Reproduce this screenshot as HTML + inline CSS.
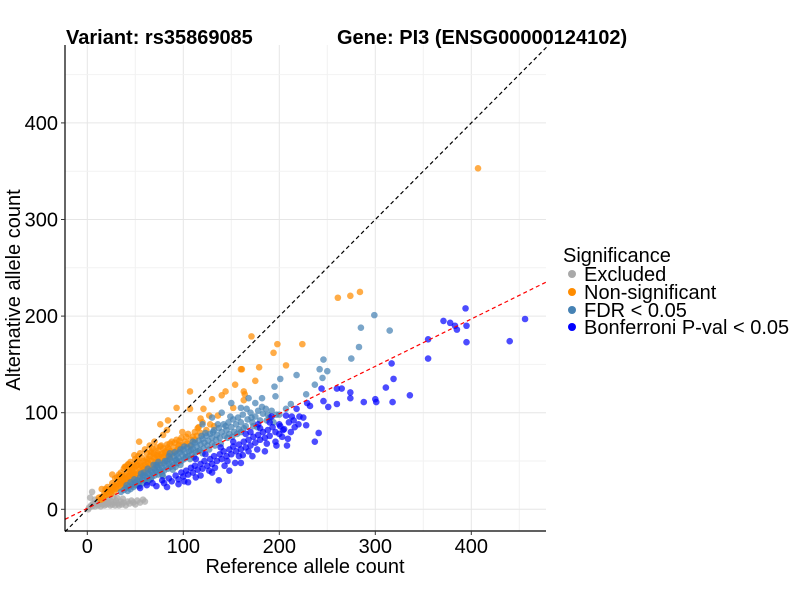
<!DOCTYPE html>
<html><head><meta charset="utf-8"><style>
body{margin:0;background:#fff;}
svg{display:block;font-family:"Liberation Sans",sans-serif;}
</style></head><body>
<svg id="chart" width="800" height="600">
<g id="grid"></g>
<g id="points"></g>
<g id="lines"></g>
<g id="axes"></g>
<text x="66" y="44" font-size="20" font-weight="bold">Variant: rs35869085</text>
<text x="337" y="44" font-size="20" font-weight="bold">Gene: PI3 (ENSG00000124102)</text>
<text x="305" y="573" font-size="20" text-anchor="middle">Reference allele count</text>
<text transform="translate(20,290) rotate(-90)" font-size="20" text-anchor="middle">Alternative allele count</text>
<g>
<text x="563" y="262" font-size="20">Significance</text>
<g><circle cx="572" cy="274" r="4" fill="#A9A9A9"/><text x="584" y="281" font-size="20">Excluded</text></g>
<g><circle cx="572" cy="292" r="4" fill="#FF8C00"/><text x="584" y="299" font-size="20">Non-significant</text></g>
<g><circle cx="572" cy="310" r="4" fill="#4682B4"/><text x="584" y="317" font-size="20">FDR &lt; 0.05</text></g>
<g><circle cx="572" cy="327" r="4" fill="#0000FF"/><text x="584" y="334" font-size="20">Bonferroni P-val &lt; 0.05</text></g>
</g>
</svg>
<script>
const xTicks=[0,100,200,300,400];
const yTicks=[0,100,200,300,400];
const grayPts=[[2,2],[4,4],[5,3],[6,6],[7,5],[8,3],[9,7],[10,6],[11,4],[12,8],[13,6],[14,3],[15,7],[16,5],[17,9],[18,4],[19,7],[20,5],[21,10],[22,6],[24,4],[25,8],[26,5],[28,7],[29,4],[30,9],[32,6],[33,4],[35,8],[36,5],[38,7],[40,4],[42,8],[44,6],[46,9],[48,7],[50,5],[52,9],[55,7],[58,10],[60,8],[5,18],[3,12],[8,10],[1,0],[23,11],[31,12],[27,13],[37,11],[13,10]];
const orangePts=[[12,12],[14,10],[15,13],[16,11],[18,14],[18,17],[20,15],[20,18],[22,16],[22,20],[24,18],[24,21],[25,16],[26,20],[27,23],[28,19],[28,25],[30,21],[30,24],[31,27],[32,22],[33,26],[34,29],[35,24],[35,31],[36,27],[37,33],[38,25],[38,29],[39,35],[40,28],[40,32],[41,37],[42,30],[43,34],[44,39],[45,32],[45,36],[46,30],[47,41],[48,34],[48,38],[49,44],[50,36],[50,33],[51,40],[52,46],[53,37],[54,42],[55,35],[55,48],[56,39],[57,44],[58,38],[58,50],[59,42],[60,46],[61,40],[62,52],[62,44],[63,48],[64,42],[65,55],[66,46],[67,50],[68,44],[69,58],[70,48],[70,53],[71,46],[72,56],[73,50],[74,61],[75,52],[76,48],[77,57],[78,54],[79,63],[80,55],[81,51],[82,59],[83,67],[84,56],[85,62],[86,54],[87,60],[88,70],[89,58],[90,64],[92,60],[93,72],[94,62],[95,66],[97,63],[98,74],[100,66],[102,70],[104,68],[105,78],[108,72],[110,75],[112,80],[114,76],[116,85],[118,79],[120,90],[124,82],[128,88],[132,86],[60,62],[55,58],[50,52],[45,49],[40,44],[35,38],[65,66],[70,70],[72,64],[62,58],[52,50],[48,46],[44,42],[42,46],[38,42],[33,36],[29,32],
[21,23],[26,27],[34,34],[39,31],[43,47],[47,36],[53,55],[57,53],[61,49],[66,59],[68,63],[73,58],[77,66],[81,60],[86,68],[91,69],[96,71],[99,80],[103,75],[56,45],[64,52],[69,54],[74,55],[79,58],[84,64],[46,43],[51,45],[36,35],[31,33],[19,21],
[261,219],[274,221],[284,225],[407,353],[171,179],[198,171],[224,171],[194,162],[161,145],[179,147],[207,149],[175,133],[164,119],[163,113],[160,145],[154,129],[163,122],[152,105],[144,122],[140,118],[130,114],[107,122],[93,105],[107,104],[121,104],[127,97],[136,97],[118,94],[115,84],[112,72],[76,88],[84,92],[83,82],[79,77],[76,65],[54,70],[67,60],[96,67],[107,66],[26,36],[39,44],[49,56],[15,21]];
const fdrPts=[[35,18],[38,20],[40,22],[42,19],[44,24],[45,21],[47,26],[48,23],[50,28],[50,25],[52,30],[53,26],[55,29],[55,33],[57,31],[58,27],[60,35],[60,30],[62,33],[63,37],[64,30],[65,36],[66,40],[67,33],[68,38],[70,42],[70,35],[72,39],[73,44],[74,36],[75,41],[76,46],[77,39],[78,43],[80,48],[80,40],[82,45],[83,50],[84,42],[85,47],[86,52],[87,44],[88,49],[90,55],[90,46],[92,51],[93,57],[94,48],[95,53],[96,59],[98,50],[99,56],[100,62],[101,52],[102,58],[104,64],[105,55],[106,60],[108,66],[109,57],[110,63],[112,69],[113,59],[114,65],[116,71],[117,61],[118,67],[120,73],[121,63],[122,69],[124,76],[125,66],[126,71],[128,78],[130,68],[130,74],[132,82],[134,72],[135,77],[137,84],[138,74],[140,80],[142,88],[143,76],[145,82],[147,90],[148,78],[150,85],[152,93],[153,80],[155,88],[157,95],[158,83],[160,90],[162,98],[165,86],[167,93],[170,100],[172,90],[175,96],[178,102],[180,92],[183,99],[186,104],[190,95],[45,28],[58,35],[72,46],[85,55],[97,62],[110,70],[123,79],[136,88],[149,96],[62,28],[78,36],[92,44],[107,52],[120,58],[133,66],[146,74],[160,80],[173,86],[187,92],[200,98],[140,100],[150,110],[160,105],[168,115],[175,110],[130,95],[120,88],
[41,25],[49,31],[54,24],[59,38],[66,31],[71,40],[79,34],[81,50],[89,41],[91,59],[97,46],[103,54],[111,54],[115,60],[119,76],[127,62],[131,80],[139,68],[144,86],[151,75],[156,78],[163,84],[166,104],[171,95],[177,85],[182,106],[188,98],[194,90],[56,37],[63,42],[69,46],[74,49],[86,58],[93,51],[101,65],[108,61],
[299,201],[285,188],[315,185],[283,168],[275,156],[246,155],[242,145],[250,143],[245,136],[218,139],[201,135],[237,129],[195,127],[196,117],[228,119],[182,115],[212,109],[207,104],[192,102],[197,98]];
const bonfPts=[[55,22],[62,25],[68,27],[72,24],[78,30],[80,27],[85,32],[88,29],[92,35],[95,31],[98,38],[100,34],[103,40],[105,36],[108,43],[110,38],[112,45],[115,41],[118,47],[120,42],[122,50],[125,45],[128,52],[130,47],[132,55],[135,50],[138,57],[140,52],[142,60],[145,55],[148,62],[150,57],[152,65],[155,60],[158,67],[160,62],[163,70],[165,64],[168,72],[170,66],[173,75],[175,69],[178,77],[180,72],[183,80],[185,74],[188,82],[190,76],[193,85],[196,80],[200,88],[205,83],[210,90],[215,92],[220,88],[225,95],[118,35],[130,38],[143,45],[137,30],[148,40],[172,55],[185,60],[160,48],[95,26],[105,28],[170,80],[165,78],[190,90],[180,84],
[83,23],[101,29],[113,33],[127,40],[133,43],[146,50],[154,48],[162,56],[177,62],[187,68],[197,66],[203,75],[212,80],[216,85],[152,70],[158,55],[168,60],[113,52],[123,57],[139,64],[178,88],[192,96],
[394,208],[456,197],[371,195],[378,193],[383,190],[385,186],[395,190],[395,173],[440,174],[355,176],[355,156],[317,151],[319,135],[311,126],[336,118],[318,111],[301,111],[300,114],[288,111],[274,115],[274,121],[265,125],[260,125],[244,125],[246,112],[251,106],[260,109],[232,107],[229,110],[218,104],[228,87],[241,79],[237,70],[221,96],[213,96],[207,97],[208,66],[209,73],[201,86],[196,70],[200,78],[204,82]];
const refSlope=0.49, refIntercept=1;

const L=65,R=546,T=45,B=531;
const X=v=>87.3+0.96*v;
const Y=v=>509.3-0.966*v;
const NS='http://www.w3.org/2000/svg';
function mk(tag,attrs,parent){const e=document.createElementNS(NS,tag);for(const k in attrs)e.setAttribute(k,attrs[k]);parent.appendChild(e);return e;}
const grid=document.getElementById('grid');
for(const t of xTicks){
  const g=mk('line',{x1:X(t),x2:X(t),y1:T,y2:B,stroke:'#e6e6e6','stroke-width':1},grid);
  
  
  const m=mk('line',{x1:X(t+50),x2:X(t+50),y1:T,y2:B,stroke:'#f2f2f2','stroke-width':1},grid);
  
  
}
for(const t of yTicks){
  const g=mk('line',{x1:L,x2:R,y1:Y(t),y2:Y(t),stroke:'#e6e6e6','stroke-width':1},grid);
  
  
  const m=mk('line',{x1:L,x2:R,y1:Y(t+50),y2:Y(t+50),stroke:'#f2f2f2','stroke-width':1},grid);
  
  
}
const pts=document.getElementById('points');
function series(arr,color,op,name){
  for(const p of arr){
    const c=mk('circle',{cx:X(p[0]),cy:Y(p[1]),r:3.3,fill:color,'fill-opacity':op},pts);
    
    
  }
}
series(grayPts,'#A9A9A9',0.75,'point-excluded');
series(orangePts,'#FF8C00',0.72,'point-non-significant');
series(fdrPts,'#4682B4',0.72,'point-fdr');
series(bonfPts,'#0000FF',0.7,'point-bonferroni');
const lines=document.getElementById('lines');
const x0=-23.2,x1=477.8;
const idEnd=480.6;
const d1=mk('line',{x1:X(x0),y1:Y(x0),x2:X(idEnd),y2:Y(idEnd),stroke:'#000','stroke-width':1.2,'stroke-dasharray':'4,3'},lines);


const d2=mk('line',{x1:X(x0),y1:Y(refSlope*x0+refIntercept),x2:X(x1),y2:Y(refSlope*x1+refIntercept),stroke:'#ff0000','stroke-width':1.2,'stroke-dasharray':'4,3'},lines);


const axes=document.getElementById('axes');
mk('line',{x1:L,x2:L,y1:T,y2:B,stroke:'#000','stroke-width':1.2},axes);
mk('line',{x1:L,x2:R,y1:B,y2:B,stroke:'#000','stroke-width':1.2},axes);
for(const t of xTicks){
  mk('line',{x1:X(t),x2:X(t),y1:B,y2:B+4,stroke:'#333'},axes);
  const tx=mk('text',{x:X(t),y:B+22,'font-size':20,'text-anchor':'middle',fill:'#000'},axes);
  tx.textContent=t;
  
  
}
for(const t of yTicks){
  mk('line',{x1:L-4,x2:L,y1:Y(t),y2:Y(t),stroke:'#333'},axes);
  const tx=mk('text',{x:L-7,y:Y(t)+7,'font-size':20,'text-anchor':'end',fill:'#000'},axes);
  tx.textContent=t;
  
  
}
</script>
</body></html>
